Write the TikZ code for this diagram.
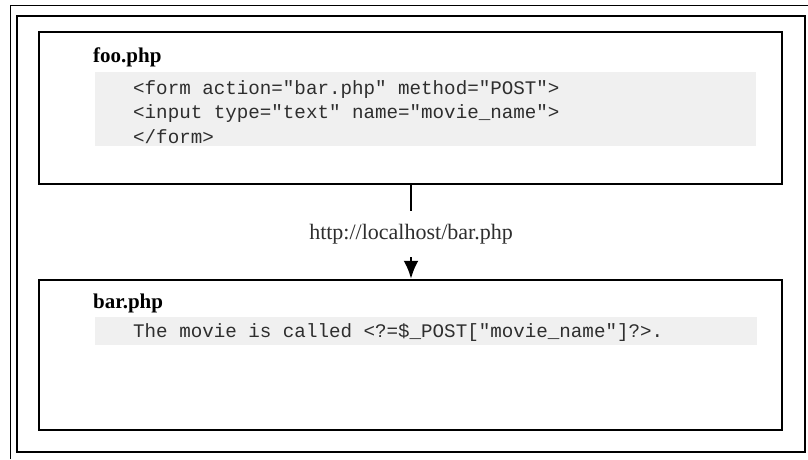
\documentclass[tikz,border=0pt]{standalone}
\usepackage{fontspec}
\setmainfont{Liberation Serif}
\setmonofont{Liberation Mono}
\usepackage{tikz}
\usetikzlibrary{positioning, arrows.meta}
\definecolor{panelgray}{HTML}{F0F0F0}
\definecolor{inkgray}{HTML}{2E2E2E}
\tikzstyle{page}=[draw, line width=2.5pt, rectangle, minimum width=743pt, minimum height=150pt]
\tikzstyle{panel}=[fill=panelgray, rectangle, inner sep=0pt, anchor=north west]
\tikzstyle{title}=[anchor=base west, inner sep=0pt, font=\fontsize{21}{21}\selectfont\bfseries]
\tikzstyle{code}=[anchor=base west, inner sep=0pt, text=inkgray, font=\fontsize{19.2}{24}\ttfamily]
\newcommand{\us}{\char`\_}

\begin{document}
\begin{tikzpicture}[x=1pt, y=-1pt, >={Latex[length=18pt,width=15pt]}]
            \useasboundingbox (0,0) rectangle (808,459);
            \draw[line width=1pt] (10,459) -- (10,5) -- (808,5);
            \draw[line width=2pt] (17,16) rectangle (805,452);
            % the two pages
            \node[page, minimum height=152pt] (foo) at (410.5,108) {};
            \node[page] (bar) at (410.5,355) {};
            \node[title] (footitle) at (93,62) {foo.php};
            \node[title] (bartitle) at (93,308) {bar.php};
            \node[panel, minimum width=661pt, minimum height=74pt] (foocode) at (95,72) {};
            \node[panel, minimum width=662pt, minimum height=28pt] (barcode) at (95,317) {};
            \node[code] (form) at (133,94) {<form action="bar.php" method="POST">};
            \node[code] (input) at (133,118.5) {<input type="text" name="movie\us name">};
            \node[code] (endform) at (133,143) {</form>};
            \node[code] (echo) at (133,337) {The movie is called <?=\$\us POST["movie\us name"]?>.};
            % request
            \node[minimum height=46pt, inner sep=0pt, text=inkgray,
                  font=\fontsize{22}{22}\selectfont] (url) at (411,234) {http://localhost/bar.php};
            \draw[line width=2.5pt] (foo.south -| url) -- (url.north);
            \draw[->, line width=2.5pt] (url.south) -- (bar.north -| url);
        \end{tikzpicture}
\end{document}
